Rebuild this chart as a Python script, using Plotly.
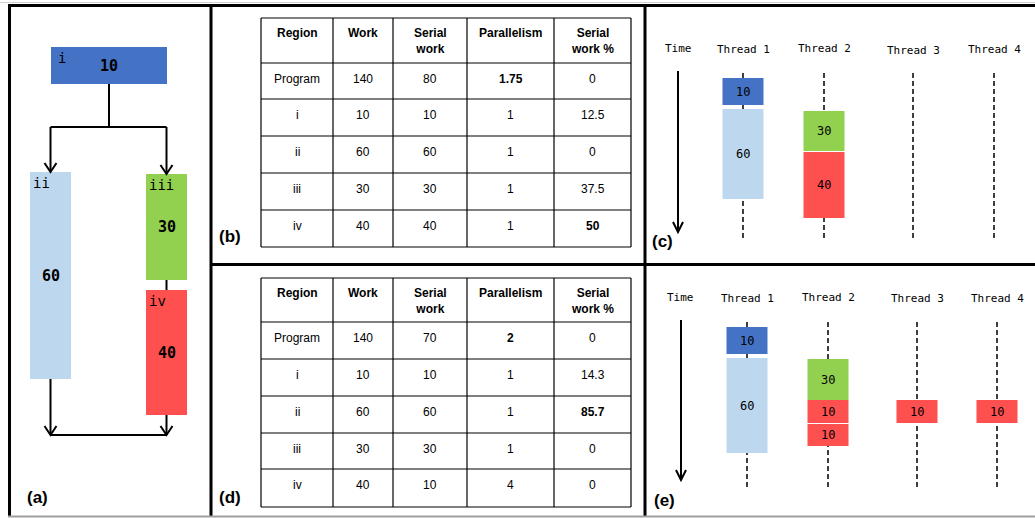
import plotly.graph_objects as go

# ---------------- data ----------------
tree_regions = ["i", "ii", "iii", "iv"]
tree_work = [10, 60, 30, 40]

table_headers = ["Region", "Work", "Serial<br>work", "Parallelism", "Serial<br>work %"]
table_regions = ["Program", "i", "ii", "iii", "iv"]
work_b = ["140", "10", "60", "30", "40"]
serial_b = ["80", "10", "60", "30", "40"]
par_b = ["1.75", "1", "1", "1", "1"]
pct_b = ["0", "12.5", "0", "37.5", "50"]
work_d = ["140", "10", "60", "30", "40"]
serial_d = ["70", "10", "60", "30", "10"]
par_d = ["2", "1", "1", "1", "4"]
pct_d = ["0", "14.3", "85.7", "0", "0"]
bold_b = [(0, 3), (4, 4)]
bold_d = [(0, 3), (2, 4)]

thread_names = ["Thread 1", "Thread 2", "Thread 3", "Thread 4"]
sched_c_thread = [0, 0, 1, 1]
sched_c_region = ["i", "ii", "iii", "iv"]
sched_c_work = [10, 60, 30, 40]
sched_e_thread = [0, 0, 1, 1, 1, 2, 3]
sched_e_region = ["i", "ii", "iii", "iv", "iv", "iv", "iv"]
sched_e_work = [10, 60, 30, 10, 10, 10, 10]

# ---------------- styles / layout geometry (pixels) ----------------
W, H = 1035, 518
COLORS = {"i": "#4472C4", "ii": "#BDD7EE", "iii": "#92D050", "iv": "#FF5050"}
MONO = "DejaVu Sans Mono"
SANS = "Liberation Sans"

tree_boxes = {"i": (51, 167, 47, 84), "ii": (30, 71, 172, 379),
              "iii": (146, 187, 174, 280), "iv": (146, 187, 290, 415)}

table_cols = [261, 333, 393, 467, 554, 631]
table_rows_b = [18, 63, 99, 136, 173, 210, 247]
table_rows_d = [278, 322, 359, 396, 433, 469, 507]

sched_c_geom = dict(threads_x=[743, 824, 913, 994], label_y=[49, 48, 50, 49],
                    time=(678, 48), arrow=(678, 71, 232), dash=(73, 238),
                    spans=[(78, 105), (109, 199), (111, 151), (152, 218)])
sched_e_geom = dict(threads_x=[747, 828, 917, 997], label_y=[298, 297, 298, 298],
                    time=(680, 297), arrow=(681, 320, 480), dash=(322, 487),
                    spans=[(327, 354), (358, 453), (359, 400), (400, 423),
                           (424, 446), (400, 423), (400, 423)])
BLOCK_W = 41

fig = go.Figure()
shapes = []
annos = []


def line(x0, y0, x1, y1, color="black", width=2, dash=None):
    shapes.append(dict(type="line", xref="x", yref="y", x0=x0, y0=y0, x1=x1, y1=y1,
                       line=dict(color=color, width=width, dash=dash)))


def rect(x0, x1, y0, y1, color):
    shapes.append(dict(type="rect", xref="x", yref="y", x0=x0, x1=x1, y0=y0, y1=y1,
                       fillcolor=color, line=dict(width=0)))


def arrow_down(x, y0, y1, width=2, wing=6, depth=9):
    line(x, y0, x, y1, width=width)
    shapes.append(dict(type="path", xref="x", yref="y",
                       path=f"M {x-wing},{y1-depth} L {x},{y1} L {x+wing},{y1-depth}",
                       line=dict(color="black", width=width)))


def text(x, y, s, size, family, xanchor="center", yanchor="middle", color="black"):
    annos.append(dict(x=x, y=y, xref="x", yref="y", text=s, showarrow=False,
                      xanchor=xanchor, yanchor=yanchor,
                      font=dict(size=size, family=family, color=color)))


# ---------------- panel (a): region tree ----------------
for reg, wk in zip(tree_regions, tree_work):
    x0, x1, y0, y1 = tree_boxes[reg]
    rect(x0, x1, y0, y1, COLORS[reg])
    text(x0 + (5 if reg == "i" else 1), y0 + 1, reg, 14, MONO, xanchor="left", yanchor="top")
    text((x0 + x1) / 2, (y0 + y1) / 2, f"<b>{wk}</b>", 15, MONO)

bi, bii, biii, biv = (tree_boxes[r] for r in tree_regions)
cx_i = (bi[0] + bi[1]) / 2
cx_ii = (bii[0] + bii[1]) / 2
cx_iii = (biii[0] + biii[1]) / 2
fork_y = 127
join_y = 435
line(cx_i, bi[3], cx_i, fork_y)
line(cx_ii, fork_y, cx_iii, fork_y)
arrow_down(cx_ii, fork_y, bii[2])
arrow_down(cx_iii, fork_y, biii[2])
line(cx_iii, biii[3], cx_iii, biv[2])
arrow_down(cx_ii, bii[3], join_y)
arrow_down(cx_iii, biv[3], join_y)
line(cx_ii, join_y, cx_iii, join_y)


# ---------------- tables (b) and (d) ----------------
def draw_table(rows_y, cols, bold_cells):
    for y in rows_y:
        line(table_cols[0], y, table_cols[-1], y, width=1.2)
    for x in table_cols:
        line(x, rows_y[0], x, rows_y[-1], width=1.2)
    for j, hdr in enumerate(table_headers):
        cx = (table_cols[j] + table_cols[j + 1]) / 2
        hy = rows_y[0] + (23 if "<br>" in hdr else 15)
        text(cx, hy, f"<b>{hdr}</b>", 12, SANS)
    for i in range(len(table_regions)):
        for j, col in enumerate(cols):
            s = str(col[i])
            if (i, j) in bold_cells:
                s = f"<b>{s}</b>"
            cx = (table_cols[j] + table_cols[j + 1]) / 2
            text(cx, rows_y[i + 1] + 16, s, 12, SANS)


draw_table(table_rows_b, [table_regions, work_b, serial_b, par_b, pct_b], bold_b)
draw_table(table_rows_d, [table_regions, work_d, serial_d, par_d, pct_d], bold_d)


# ---------------- schedules (c) and (e) ----------------
def draw_schedule(g, thr, regs, works):
    tx, ty = g["time"]
    text(tx, ty, "Time", 11, MONO)
    ax, ay0, ay1 = g["arrow"]
    arrow_down(ax, ay0, ay1, width=2, wing=5, depth=10)
    for k, name in enumerate(thread_names):
        x = g["threads_x"][k]
        text(x, g["label_y"][k], name, 11, MONO)
        line(x, g["dash"][0], x, g["dash"][1], width=1.5, dash="5px,3px")
    for t, reg, wk, (y0, y1) in zip(thr, regs, works, g["spans"]):
        x = g["threads_x"][t]
        rect(x - BLOCK_W / 2, x + BLOCK_W / 2, y0, y1, COLORS[reg])
        text(x, (y0 + y1) / 2, str(wk), 12, MONO)


draw_schedule(sched_c_geom, sched_c_thread, sched_c_region, sched_c_work)
draw_schedule(sched_e_geom, sched_e_thread, sched_e_region, sched_e_work)

# ---------------- panel frames and labels ----------------
line(0, 2.5, W, 2.5, color="#d0d0d0", width=1)
line(8, 5.5, W, 5.5, width=3)
line(9.5, 4, 9.5, 517, width=3)
line(211, 4, 211, 516, width=3)
line(645, 4, 645, 516, width=3)
line(211, 264.5, W, 264.5, width=3)
line(8, 516.5, W, 516.5, color="#a0a0a0", width=2)

for lbl, (x, y) in zip(["(a)", "(b)", "(c)", "(d)", "(e)"],
                       [(37, 497), (230, 236), (662, 241), (230, 497), (664, 500)]):
    text(x, y, f"<b>{lbl}</b>", 17, SANS)

fig.update_layout(
    width=W, height=H, margin=dict(l=0, r=0, t=0, b=0),
    paper_bgcolor="white", plot_bgcolor="white",
    xaxis=dict(range=[0, W], visible=False, fixedrange=True),
    yaxis=dict(range=[H, 0], visible=False, fixedrange=True),
    shapes=shapes, annotations=annos, showlegend=False,
)
fig.write_html("out.html", config={"displayModeBar": False})
